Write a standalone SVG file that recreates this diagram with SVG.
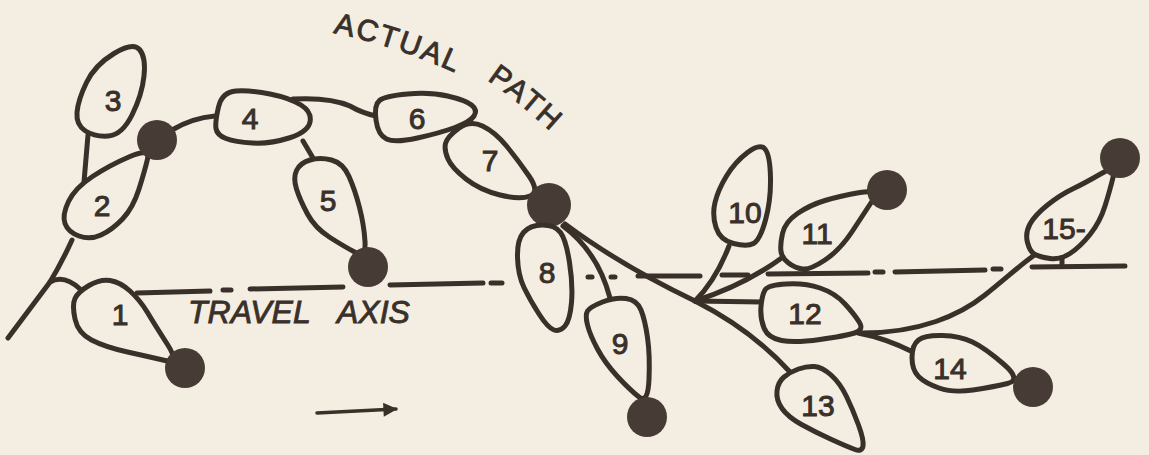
<svg xmlns="http://www.w3.org/2000/svg" width="1149" height="455" viewBox="0 0 1149 455">
<defs>
<style>
.ink{fill:none;stroke:#3a302a;stroke-width:5;stroke-linecap:round;stroke-linejoin:round}
.blob{fill:#f3ede2;stroke:#3a302a;stroke-width:5;stroke-linejoin:round}
.dot{fill:#463c35}
.num{font-family:"Liberation Sans",Arial,sans-serif;font-size:30px;fill:#3a302a;stroke:#3a302a;stroke-width:1;text-anchor:middle}
.cap{font-family:"Liberation Sans",Arial,sans-serif;fill:#3a302a;stroke:#3a302a;stroke-width:0.9}
</style>
<marker id="ah" viewBox="0 0 10 10" refX="9" refY="5" markerWidth="6" markerHeight="4" orient="auto" markerUnits="strokeWidth">
<path d="M0,0 L10,5 L0,10 Z" fill="#3a302a"/>
</marker>
<path id="arc1" d="M 333,33 Q 395,45 460,75"/>
<path id="arc2" d="M 487,80 Q 522,104 562,142"/>
</defs>
<rect width="1149" height="455" fill="#f3ede2"/>

<g id="connectors" class="ink">
<path d="M 8,338 L 50,282 Q 62,262 72,240"/>
<path d="M 50,282 Q 64,274 80,289"/>
<path d="M 88,135 L 84,182"/>
<path d="M 172,130 Q 192,118 215,116"/>
<path d="M 293,99 Q 330,97 350,106 Q 362,113 376,116"/>
<path d="M 303,141 L 313,158"/>
<path d="M 563,226 Q 598,252 610,298"/>
<path d="M 565,224 Q 620,265 695,301"/>
<path d="M 695,301 Q 716,280 729,246"/>
<path d="M 695,301 Q 745,285 783,257"/>
<path d="M 695,301 L 762,302"/>
<path d="M 695,301 Q 752,330 790,372"/>
<path d="M 858,333 Q 885,338 913,352"/>
<path d="M 862,333 C 920,333 960,315 985,295 S 1020,265 1036,254"/>
<path d="M 805,269 L 805,273"/>
<path d="M 1062,259 L 1062,266"/>
<g id="travel-axis">
<path d="M 137,293 L 210,291"/>
<path d="M 223,290 L 231,290"/>
<path d="M 250,289 L 343,287"/>
<path d="M 390,285 L 483,283"/>
<path d="M 491,283 L 502,283"/>
<path d="M 588,277 L 592,277"/>
<path d="M 611,277 L 615,277"/>
<path d="M 638,276 L 700,276"/>
<path d="M 722,275 L 748,275"/>
<path d="M 768,274 L 868,273"/>
<path d="M 875,272 L 883,272"/>
<path d="M 895,272 L 985,270"/>
<path d="M 993,269 L 1001,269"/>
<path d="M 1032,267 L 1125,266"/>
</g>
<path d="M 317,413 L 396,409" stroke-width="3.5" marker-end="url(#ah)"/>
</g>

<g id="node-1">
<path class="blob" d="M 89,285.5 Q 100,279 110,280.5 Q 120,282 130,291 Q 140,300 147.5,312.5 Q 155,325 167.5,344.5 Q 180,364 165,360.5 Q 150,357 127.5,352 Q 105,347 91.5,340 Q 78,333 75,319 Q 72,305 75,298.5 Q 78,292 89,285.5 Z"/>
<circle class="dot" cx="185" cy="368" r="20"/>
<text class="num" x="120" y="325">1</text>
</g>
<g id="node-3">
<path class="blob" d="M 139.5,49.5 Q 146,57 144,76 Q 142,95 132,115 Q 122,135 108.5,136 Q 95,137 85.5,131 Q 76,125 77,112.5 Q 78,100 86.5,82.5 Q 95,65 114,53.5 Q 133,42 139.5,49.5 Z"/>
<text class="num" x="113" y="111">3</text>
</g>
<g id="node-2">
<path class="blob" d="M 68.5,201.5 Q 75,188 92.5,176.5 Q 110,165 130,156.5 Q 150,148 147.5,159 Q 145,170 139,189 Q 133,208 122.5,219 Q 112,230 101,235 Q 90,240 79,236 Q 68,232 65,223.5 Q 62,215 68.5,201.5 Z"/>
<circle class="dot" cx="157" cy="140" r="20"/>
<text class="num" x="102" y="216">2</text>
</g>
<g id="node-4">
<path class="blob" d="M 218.5,107 Q 222,92 236,91 Q 250,90 270,94 Q 290,98 301,105 Q 312,112 310,122 Q 308,132 289,138 Q 270,144 252.5,143 Q 235,142 226,138.5 Q 217,135 216,128.5 Q 215,122 218.5,107 Z"/>
<text class="num" x="250" y="129">4</text>
</g>
<g id="node-5">
<path class="blob" d="M 310,160 Q 320,157 331.5,160 Q 343,163 349,176.5 Q 355,190 359.5,207.5 Q 364,225 365,241.5 Q 366,258 355.5,252.5 Q 345,247 330,237.5 Q 315,228 307.5,214 Q 300,200 296.5,189 Q 293,178 296.5,170.5 Q 300,163 310,160 Z"/>
<circle class="dot" cx="368" cy="267" r="20"/>
<text class="num" x="328" y="211">5</text>
</g>
<g id="node-6">
<path class="blob" d="M 379.5,100.5 Q 385,96 407.5,94 Q 430,92 447.5,96 Q 465,100 471.5,105 Q 478,110 474,116 Q 470,122 455,127.5 Q 440,133 417.5,138 Q 395,143 386.5,139 Q 378,135 376,120 Q 374,105 379.5,100.5 Z"/>
<text class="num" x="417" y="129">6</text>
</g>
<g id="node-7">
<path class="blob" d="M 458.5,128.5 Q 470,120 482.5,126 Q 495,132 506.5,146 Q 518,160 529,176 Q 540,192 530,196 Q 520,200 500,195 Q 480,190 466,179 Q 452,168 448,159 Q 444,150 445.5,143.5 Q 447,137 458.5,128.5 Z"/>
<circle class="dot" cx="549" cy="205" r="22"/>
<text class="num" x="490" y="171">7</text>
</g>
<g id="node-8">
<path class="blob" d="M 523.5,232.5 Q 530,225 542.5,225 Q 555,225 560.5,232.5 Q 566,240 569.5,262.5 Q 573,285 571.5,302.5 Q 570,320 565,326 Q 560,332 554,330 Q 548,328 539,314 Q 530,300 524,287.5 Q 518,275 517.5,257.5 Q 517,240 523.5,232.5 Z"/>
<text class="num" x="547" y="283">8</text>
</g>
<g id="node-9">
<path class="blob" d="M 602.5,302 Q 615,297 626,298.5 Q 637,300 641,310 Q 645,320 647.5,337.5 Q 650,355 649,379.5 Q 648,404 639,397 Q 630,390 617.5,376.5 Q 605,363 597.5,349 Q 590,335 587.5,325 Q 585,315 587.5,311 Q 590,307 602.5,302 Z"/>
<circle class="dot" cx="647" cy="417" r="20"/>
<text class="num" x="620" y="354">9</text>
</g>
<g id="node-10">
<path class="blob" d="M 765,149 Q 770,155 770.5,177.5 Q 771,200 765.5,220 Q 760,240 753.5,243.5 Q 747,247 733.5,243.5 Q 720,240 716,227.5 Q 712,215 715,202.5 Q 718,190 726.5,176 Q 735,162 747.5,152.5 Q 760,143 765,149 Z"/>
<text class="num" x="745" y="223">10</text>
</g>
<g id="node-11">
<path class="blob" d="M 782.5,233.5 Q 785,222 797.5,213.5 Q 810,205 825,200.5 Q 840,196 860,192.5 Q 880,189 872.5,200.5 Q 865,212 852.5,231 Q 840,250 825,260 Q 810,270 802.5,269 Q 795,268 788.5,263 Q 782,258 781,251.5 Q 780,245 782.5,233.5 Z"/>
<circle class="dot" cx="887" cy="190" r="20"/>
<text class="num" x="817" y="244">11</text>
</g>
<g id="node-12">
<path class="blob" d="M 765,290 Q 768,285 786.5,284 Q 805,283 820,288 Q 835,293 845,304 Q 855,315 859.5,322.5 Q 864,330 854.5,333 Q 845,336 820,339.5 Q 795,343 781.5,340.5 Q 768,338 764,328 Q 760,318 761,306.5 Q 762,295 765,290 Z"/>
<text class="num" x="805" y="324">12</text>
</g>
<g id="node-13">
<path class="blob" d="M 798.5,369 Q 807,366 814.5,366.5 Q 822,367 831,375 Q 840,383 846.5,396.5 Q 853,410 858.5,425 Q 864,440 863,446 Q 862,452 855,449.5 Q 848,447 831.5,439.5 Q 815,432 801.5,424.5 Q 788,417 782,408.5 Q 776,400 777,391 Q 778,382 784,377 Q 790,372 798.5,369 Z"/>
<text class="num" x="818" y="416">13</text>
</g>
<g id="node-14">
<path class="blob" d="M 918.5,340 Q 925,335 942.5,335.5 Q 960,336 972.5,342 Q 985,348 1003.5,364 Q 1022,380 1007.5,383.5 Q 993,387 973,390 Q 953,393 939,388 Q 925,383 918.5,376.5 Q 912,370 912,357.5 Q 912,345 918.5,340 Z"/>
<circle class="dot" cx="1033" cy="387" r="20"/>
<text class="num" x="950" y="379">14</text>
</g>
<g id="node-15">
<path class="blob" d="M 1027.5,242.5 Q 1025,233 1030,224 Q 1035,215 1047.5,205 Q 1060,195 1072.5,189 Q 1085,183 1100.5,174 Q 1116,165 1113,177.5 Q 1110,190 1105,206 Q 1100,222 1090,234.5 Q 1080,247 1070,253.5 Q 1060,260 1050,258.5 Q 1040,257 1035,254.5 Q 1030,252 1027.5,242.5 Z"/>
<circle class="dot" cx="1120" cy="158" r="20"/>
<text class="num" x="1064" y="239">15-</text>
</g>

<g id="labels">
<text class="cap" font-size="30" letter-spacing="2"><textPath href="#arc1">ACTUAL</textPath></text>
<text class="cap" font-size="30" letter-spacing="2"><textPath href="#arc2">PATH</textPath></text>
<text class="cap" font-size="32" font-style="italic" y="323"><tspan x="188">TRAVEL</tspan><tspan x="337">AXIS</tspan></text>
</g>
</svg>
